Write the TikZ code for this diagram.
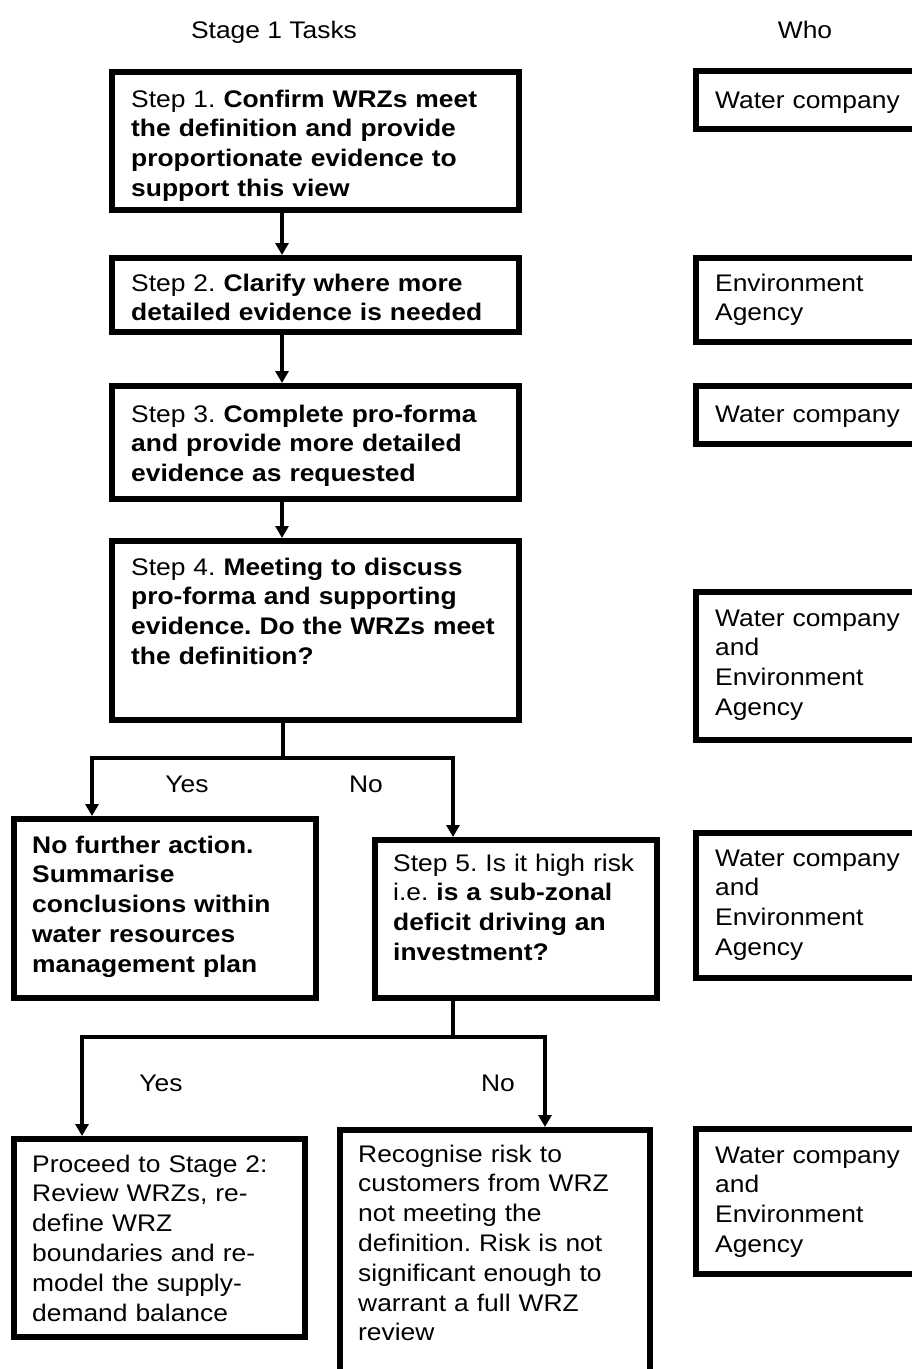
\documentclass[tikz,border=0pt]{standalone}
\usepackage{fontspec}
\setmainfont{Liberation Sans}[FakeStretch=1.1]
\usetikzlibrary{arrows.meta}
\frenchspacing
\begin{document}
\begin{tikzpicture}[x=1pt,y=-1pt,
  font=\fontsize{24}{29.8}\selectfont\frenchspacing,
  box/.style={draw=black, line width=6pt, anchor=north west, inner sep=0pt, fill=white},
  txt/.style={anchor=base west, inner sep=0pt, align=left, text width=420pt},
  lbl/.style={anchor=base, inner sep=0pt},
  ln/.style={line width=4.5pt, line join=miter},
  arr/.style={ln, -{Triangle[width=13pt,length=12pt]}}]
\useasboundingbox (0,0) rectangle (912,1369);
\clip (0,0) rectangle (912,1369);
\fill[white] (0,0) rectangle (912,1369);

% headers
\node[lbl] (h1) at (274,38) {Stage 1 Tasks};
\node[lbl] (h2) at (805,38) {Who};

% task boxes
\node[box, minimum width=407pt, minimum height=138pt] (b1) at (109,69) {};
\node[box, minimum width=407pt, minimum height=74pt]  (b2) at (109,255) {};
\node[box, minimum width=407pt, minimum height=113pt] (b3) at (109,383) {};
\node[box, minimum width=407pt, minimum height=179pt] (b4) at (109,538) {};
\node[box, minimum width=302pt, minimum height=179pt] (nf) at (11,816) {};
\node[box, minimum width=282pt, minimum height=158pt] (s5) at (372,837) {};
\node[box, minimum width=291pt, minimum height=198pt] (pr) at (11,1136) {};
\node[box, minimum width=310pt, minimum height=287pt] (rc) at (337,1127) {};

% who boxes
\node[box, minimum width=241pt, minimum height=58pt]  (w1) at (693,68) {};
\node[box, minimum width=241pt, minimum height=84pt]  (w2) at (693,255) {};
\node[box, minimum width=241pt, minimum height=58pt]  (w3) at (693,383) {};
\node[box, minimum width=241pt, minimum height=148pt] (w4) at (693,589) {};
\node[box, minimum width=241pt, minimum height=145pt] (w5) at (693,830) {};
\node[box, minimum width=241pt, minimum height=145pt] (w6) at (693,1126) {};

% task texts
\node[txt] (t1) at (131,107) {Step 1. \textbf{Confirm WRZs meet}\\\textbf{the definition and provide}\\\textbf{proportionate evidence to}\\\textbf{support this view}};
\node[txt] (t2) at (131,291) {Step 2. \textbf{Clarify where more}\\\textbf{detailed evidence is needed}};
\node[txt] (t3) at (131,422) {Step 3. \textbf{Complete pro-forma}\\\textbf{and provide more detailed}\\\textbf{evidence as requested}};
\node[txt] (t4) at (131,575) {Step 4. \textbf{Meeting to discuss}\\\textbf{pro-forma and supporting}\\\textbf{evidence. Do the WRZs meet}\\\textbf{the definition?}};
\node[txt] (tnf) at (32,853) {\textbf{No further action.}\\\textbf{Summarise}\\\textbf{conclusions within}\\\textbf{water resources}\\\textbf{management plan}};
\node[txt] (ts5) at (393,871) {Step 5. Is it high risk\\i.e. \textbf{is a sub-zonal}\\\textbf{deficit driving an}\\\textbf{investment?}};
\node[txt] (tpr) at (32,1172) {Proceed to Stage 2:\\Review WRZs, re-\\define WRZ\\boundaries and re-\\model the supply-\\demand balance};
\node[txt] (trc) at (358,1162) {Recognise risk to\\customers from WRZ\\not meeting the\\definition. Risk is not\\significant enough to\\warrant a full WRZ\\review};

% who texts
\node[txt] (u1) at (715,108) {Water company};
\node[txt] (u2) at (715,291) {Environment\\Agency};
\node[txt] (u3) at (715,422) {Water company};
\node[txt] (u4) at (715,626) {Water company\\and\\Environment\\Agency};
\node[txt] (u5) at (715,866) {Water company\\and\\Environment\\Agency};
\node[txt] (u6) at (715,1163) {Water company\\and\\Environment\\Agency};

% connectors
\coordinate (sp) at (282,0);
\draw[arr] (b1.south -| sp) -- (b2.north -| sp);
\draw[arr] (b2.south -| sp) -- (b3.north -| sp);
\draw[arr] (b3.south -| sp) -- (b4.north -| sp);

\coordinate (fa) at (283,758);
\coordinate (faL) at (92,758);
\coordinate (faR) at (453,758);
\draw[ln] (b4.south -| fa) -- (fa);
\draw[arr] (fa) -- (faL) -- (nf.north -| faL);
\draw[arr] (fa) -- (faR) -- (s5.north -| faR);

\coordinate (fb) at (453,1037);
\coordinate (fbL) at (82,1037);
\coordinate (fbR) at (545,1037);
\draw[ln] (s5.south -| fb) -- (fb);
\draw[arr] (fb) -- (fbL) -- (pr.north -| fbL);
\draw[arr] (fb) -- (fbR) -- (rc.north -| fbR);

% labels
\node[lbl] (y1) at (187,792) {Yes};
\node[lbl] (n1) at (366,792) {No};
\node[lbl] (y2) at (161,1091) {Yes};
\node[lbl] (n2) at (498,1091) {No};
\end{tikzpicture}
\end{document}
